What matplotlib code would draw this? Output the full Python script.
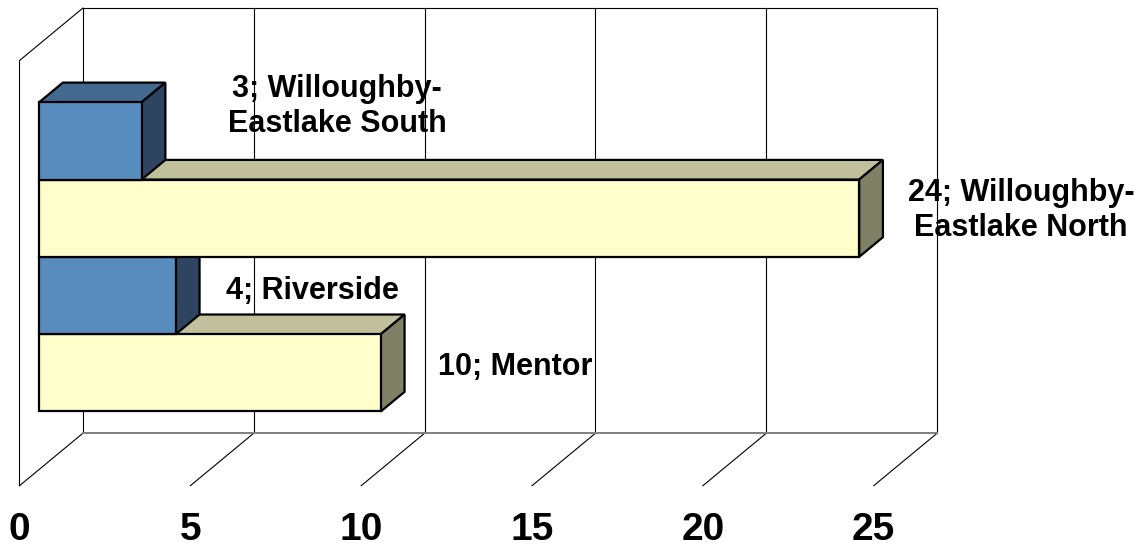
import matplotlib.pyplot as plt
import numpy as np
from matplotlib.patches import Polygon

plt.rcParams['font.family'] = ['Liberation Sans', 'DejaVu Sans']

# data (bottom to top, as drawn)
names = ["Mentor", "Riverside", "Willoughby-\nEastlake North", "Willoughby-\nEastlake South"]
values = [10, 4, 24, 3]
series = ["North", "South", "North", "South"]   # which colour set each bar uses
ticks = [0, 5, 10, 15, 20, 25]

# colours: front, top, side
faces = {
    "South": ("#588BBE", "#44698F", "#2E4460"),
    "North": ("#FFFFCC", "#C0C09C", "#808066"),
}

# fake 3d: full depth of the box in data units, bars sit in the middle of it
DX, DY = 1.853, 0.678
D0, D1 = 0.31, 0.685
TOP = 5.5
GAP = 0.75

def proj(v, y, d):
    return v + d * DX, y + d * DY

fig = plt.figure(figsize=(11.44, 5.46), dpi=100)
ax = fig.add_axes([0, 0, 1, 1])
ax.set_xlim(-0.571, 32.91)
ax.set_ylim(-0.780, 6.283)
ax.axis('off')

# back wall gridlines + floor lines
for t in ticks:
    p1, p2 = proj(t, 0, 1), proj(t, TOP, 1)
    ax.plot([p1[0], p2[0]], [p1[1], p2[1]], color='black', lw=0.8, zorder=1)
    q1, q2 = proj(t, 0, 0), proj(t, 0, 1)
    ax.plot([q1[0], q2[0]], [q1[1], q2[1]], color='black', lw=0.8, zorder=1)
a, b = proj(0, TOP, 1), proj(ticks[-1], TOP, 1)
ax.plot([a[0], b[0]], [a[1], b[1]], color='black', lw=0.8, zorder=1)
a, b = proj(0, 0, 1), proj(ticks[-1], 0, 1)
ax.plot([a[0], b[0]], [a[1], b[1]], color='#808080', lw=1.4, zorder=1)
# left wall
w = [proj(0, 0, 0), proj(0, TOP, 0), proj(0, TOP, 1)]
ax.plot([p[0] for p in w], [p[1] for p in w], color='black', lw=0.8, zorder=1)

# bars
ypos = np.arange(len(values)) + GAP + 0.5
fronts = [faces[s][0] for s in series]
ax.barh(ypos + D0 * DY, values, height=1.0, left=D0 * DX, color=fronts,
        edgecolor='black', linewidth=1.6, zorder=3)
for y, v, s in zip(ypos, values, series):
    top = [proj(0, y + 0.5, D0), proj(v, y + 0.5, D0), proj(v, y + 0.5, D1), proj(0, y + 0.5, D1)]
    side = [proj(v, y - 0.5, D0), proj(v, y + 0.5, D0), proj(v, y + 0.5, D1), proj(v, y - 0.5, D1)]
    ax.add_patch(Polygon(top, closed=True, facecolor=faces[s][1], edgecolor='black', lw=1.6, zorder=2))
    ax.add_patch(Polygon(side, closed=True, facecolor=faces[s][2], edgecolor='black', lw=1.6, zorder=2.5))

# data labels (baseline of the last line)
label_dx = [4.5, 4.575, 5.31, 6.29]
label_dy = [-0.028, -0.044, -0.225, 0.12]
for y, v, n, dx, dy in zip(ypos, values, names, label_dx, label_dy):
    ax.text(v + dx, y + D0 * DY + dy, f"{v}; {n}", ha='center', va='baseline',
            multialignment='center', fontsize=22, fontweight='bold', zorder=5)

# value axis labels on the front edge
for t in ticks:
    ax.text(t, -0.70, str(t), ha='center', va='baseline', fontsize=28, fontweight='bold')

fig.savefig('out.png', dpi=100)
